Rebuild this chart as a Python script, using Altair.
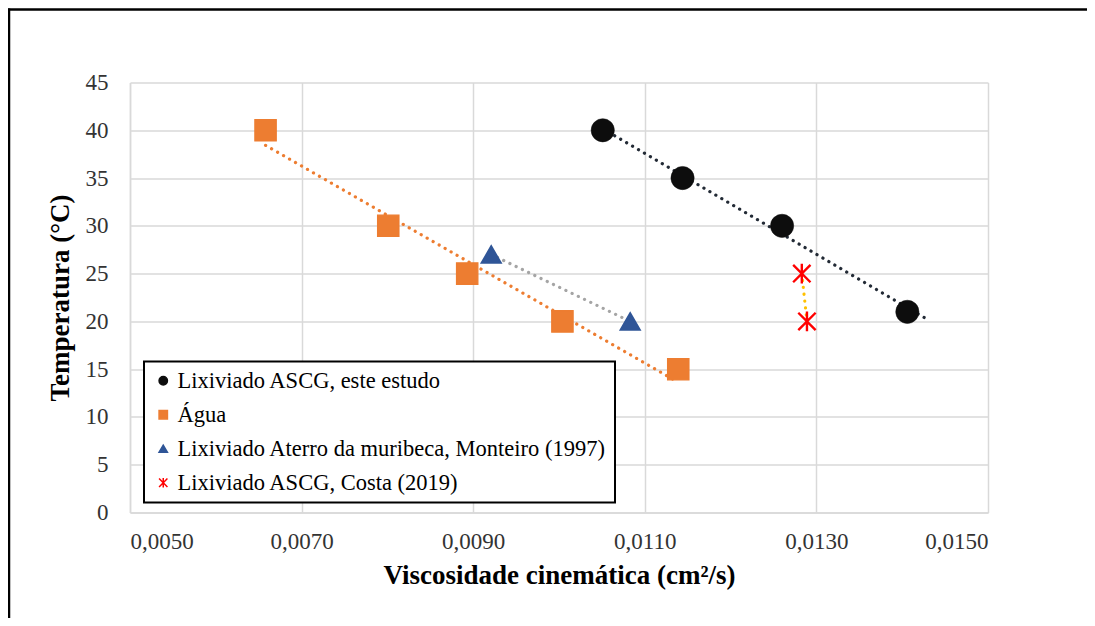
import pandas as pd
import altair as alt

# Series
series = [
    "Lixiviado ASCG, este estudo",
    "Água",
    "Lixiviado Aterro da muribeca, Monteiro (1997)",
    "Lixiviado ASCG, Costa (2019)",
]
estudo_visc = [0.01051, 0.01144, 0.01260, 0.01406]
estudo_temp = [40, 35, 30, 21]
agua_visc = [0.00658, 0.00801, 0.00893, 0.01004, 0.01139]
agua_temp = [40, 30, 25, 20, 15]
monteiro_visc = [0.00921, 0.01083]
monteiro_temp = [27, 20]
costa_visc = [0.01283, 0.01289]
costa_temp = [25, 20]

x_ticks = [0.005, 0.007, 0.009, 0.011, 0.013, 0.015]
y_ticks = [0, 5, 10, 15, 20, 25, 30, 35, 40, 45]

marker_color = ["#0d0d0d", "#ED7D31", "#2F5597", "#FF0000"]
marker_shape = ["circle", "square", "triangle-up", "M-1,-1L1,1M-1,1L1,-1M0,-1.15L0,1.15"]
marker_size = [270, 200, 540, 300]
marker_width = [0.5, 0.5, 0.5, 2.4]
trend_color = ["#222a35", "#ED7D31", "#A5A5A5", "#FFC000"]

rows = []
for name, xs, ys in zip(series,
                        [estudo_visc, agua_visc, monteiro_visc, costa_visc],
                        [estudo_temp, agua_temp, monteiro_temp, costa_temp]):
    for v, t in zip(xs, ys):
        rows.append({"serie": name, "visc": v, "temp": t})
df = pd.DataFrame(rows)

font = "Liberation Serif"

x_enc = alt.X(
    "visc:Q",
    title="Viscosidade cinemática (cm²/s)",
    scale=alt.Scale(domain=[0.005, 0.015], nice=False, zero=False),
    axis=alt.Axis(values=x_ticks, labelExpr="replace(format(datum.value, '.4f'), '.', ',')",
                  labelPadding=18, titlePadding=9, labelFont=font, titleFont=font),
)
y_enc = alt.Y(
    "temp:Q",
    title="Temperatura (°C)",
    scale=alt.Scale(domain=[0, 45], nice=False),
    axis=alt.Axis(values=y_ticks, labelPadding=22, titlePadding=11,
                  labelFont=font, titleFont=font),
)

# dotted linear trendlines, fitted by Vega-Lite
trends = []
for i, name in enumerate(series):
    base = alt.Chart(df).transform_filter(alt.datum.serie == name)
    if i == 0:
        base = base.transform_regression("visc", "temp", extent=[0.01051, 0.0143])
    else:
        base = base.transform_regression("visc", "temp")
    trends.append(
        base.mark_line(color=trend_color[i], strokeWidth=3.2, strokeDash=[0.1, 6.8],
                       strokeCap="round")
        .encode(x=x_enc, y=y_enc)
    )

leg = alt.Legend(title=None, orient="none", legendX=14, legendY=279)

# size and stroke width use the reversed domain so they are not merged into the legend
rev = series[::-1]
points = alt.Chart(df).mark_point(filled=True, opacity=1).encode(
    x=x_enc,
    y=y_enc,
    fill=alt.Fill("serie:N", scale=alt.Scale(domain=series, range=marker_color), legend=leg),
    stroke=alt.Stroke("serie:N", scale=alt.Scale(domain=series, range=marker_color), legend=leg),
    shape=alt.Shape("serie:N", scale=alt.Scale(domain=series, range=marker_shape), legend=leg),
    size=alt.Size("serie:N", scale=alt.Scale(domain=rev, range=marker_size[::-1]), legend=None),
    strokeWidth=alt.StrokeWidth("serie:N", scale=alt.Scale(domain=rev, range=marker_width[::-1]),
                                legend=None),
)

# outer chart border: only left and top edges show in the reference
one = pd.DataFrame({"k": [0]})
frame_left = alt.Chart(one).mark_rule(color="black", strokeWidth=2.5, clip=False).encode(
    x=alt.value(-121), y=alt.value(-74), y2=alt.value(560))
frame_top = alt.Chart(one).mark_rule(color="black", strokeWidth=2.5, clip=False).encode(
    x=alt.value(-122), x2=alt.value(1000), y=alt.value(-73))

chart = (
    alt.layer(frame_left, frame_top, *trends, points)
    .properties(
        width=858,
        height=430,
        autosize=alt.AutoSizeParams(type="none"),
        padding={"left": 122, "top": 74.5, "right": 99, "bottom": 105},
        background="white",
    )
    .configure_view(stroke="transparent")
    .configure_axis(
        grid=True,
        gridColor="#D9D9D9",
        gridWidth=1.5,
        domainColor="#D9D9D9",
        domainWidth=1.5,
        ticks=False,
        labelFont=font,
        labelFontSize=23,
        labelColor="#333333",
        titleFont=font,
        titleFontSize=27,
        titleFontWeight="bold",
        titleColor="#000000",
    )
    .configure_legend(
        labelFont=font,
        labelFontSize=22.5,
        labelColor="#000000",
        labelLimit=0,
        labelOffset=3,
        symbolSize=70,
        symbolStrokeWidth=1.5,
        rowPadding=11,
        padding=8,
        strokeColor="black",
        strokeWidth=2,
        fillColor="white",
    )
)

chart.save("out.html", embed_options={"renderer": "svg", "actions": False})
